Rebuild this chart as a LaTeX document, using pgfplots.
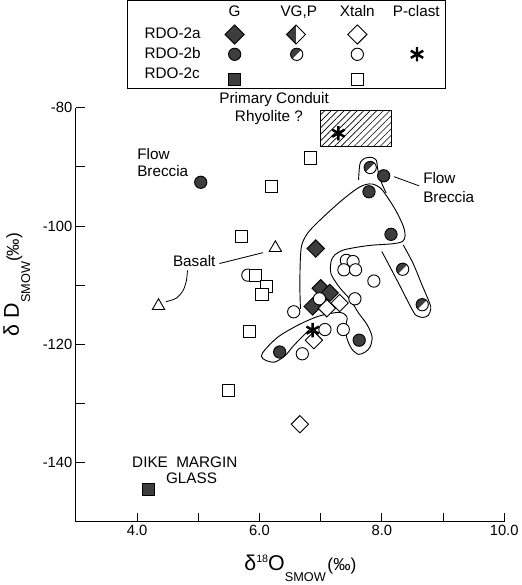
\documentclass[border=0pt]{standalone}
\usepackage{fontspec}
\setmainfont{Liberation Sans}
\usepackage{pgfplots}
\pgfplotsset{compat=1.18}
\usetikzlibrary{patterns.meta}
\definecolor{dk}{gray}{0.24}
\newcommand{\lbl}{\fontsize{15}{17}\selectfont}

\pgfdeclareplotmark{dia}{%
  \pgfpathmoveto{\pgfqpoint{0pt}{1.3\pgfplotmarksize}}%
  \pgfpathlineto{\pgfqpoint{1.3\pgfplotmarksize}{0pt}}%
  \pgfpathlineto{\pgfqpoint{0pt}{-1.3\pgfplotmarksize}}%
  \pgfpathlineto{\pgfqpoint{-1.3\pgfplotmarksize}{0pt}}%
  \pgfpathclose\pgfusepathqfillstroke}
\pgfdeclareplotmark{halfdia}{%
  \begin{pgfscope}\pgfsetfillcolor{white}%
  \pgfpathmoveto{\pgfqpoint{0pt}{1.3\pgfplotmarksize}}%
  \pgfpathlineto{\pgfqpoint{1.3\pgfplotmarksize}{0pt}}%
  \pgfpathlineto{\pgfqpoint{0pt}{-1.3\pgfplotmarksize}}%
  \pgfpathclose\pgfusepathqfill\end{pgfscope}%
  \pgfpathmoveto{\pgfqpoint{0pt}{1.3\pgfplotmarksize}}%
  \pgfpathlineto{\pgfqpoint{-1.3\pgfplotmarksize}{0pt}}%
  \pgfpathlineto{\pgfqpoint{0pt}{-1.3\pgfplotmarksize}}%
  \pgfpathclose\pgfusepathqfill
  \pgfpathmoveto{\pgfqpoint{0pt}{1.3\pgfplotmarksize}}%
  \pgfpathlineto{\pgfqpoint{1.3\pgfplotmarksize}{0pt}}%
  \pgfpathlineto{\pgfqpoint{0pt}{-1.3\pgfplotmarksize}}%
  \pgfpathlineto{\pgfqpoint{-1.3\pgfplotmarksize}{0pt}}%
  \pgfpathclose\pgfusepathqstroke}
\pgfdeclareplotmark{halfcirc}{%
  \begin{pgfscope}\pgfsetfillcolor{white}%
  \pgfpathcircle{\pgfpointorigin}{\pgfplotmarksize}\pgfusepathqfill\end{pgfscope}%
  \pgfpathmoveto{\pgfpointpolar{45}{\pgfplotmarksize}}%
  \pgfpatharc{45}{225}{\pgfplotmarksize}%
  \pgfpathclose\pgfusepathqfill
  \pgfpathcircle{\pgfpointorigin}{\pgfplotmarksize}\pgfusepathqstroke}

\begin{document}
\begin{tikzpicture}
\begin{axis}[
  name=ax,
  scale only axis, width=419bp, height=405bp,
  xmin=3, xmax=10, ymin=-150, ymax=-80,
  axis lines*=left,
  axis line style={line width=1pt},
  xtick={4,6,8,10}, xticklabels={4.0,6.0,8.0,10.0},
  minor xtick={5,7,9},
  ytick={-140,-120,-100,-80}, yticklabels={-140,-120,-100,-80},
  minor ytick={-130,-110,-90},
  tick align=inside,
  major tick length=9bp, minor tick length=9bp,
  tick style={black, line width=1pt},
  tick label style={font=\fontsize{14.5}{15}\selectfont},
  /pgf/number format/assume math mode=true,
  clip=false,
  xlabel={{\fontsize{21}{21}\selectfont δ\raisebox{8bp}{\fontsize{10.5}{10.5}\selectfont 18}O}\raisebox{-11bp}{\fontsize{12.5}{12.5}\selectfont SMOW}\,{\fontsize{17}{17}\selectfont (‰)}},
  ylabel={{\fontsize{21}{21}\selectfont δ D}\raisebox{-11bp}{\fontsize{12.5}{12.5}\selectfont SMOW}{\fontsize{17}{17}\selectfont (‰)}},
  xlabel style={at={(axis description cs:0.524,-0.112)}, anchor=center},
  ylabel style={at={(axis description cs:-0.138,0.573)}, anchor=center},
]
% hatched box (primary conduit rhyolite)
\draw[line width=0.9pt, pattern={Lines[angle=45,distance=4.5bp,line width=0.6bp]}]
  (axis cs:7.0,-86.5) rectangle (axis cs:8.16,-80.4);

% outlines
\addplot[smooth, no markers, line width=0.9pt] coordinates {
 (7.62,-92.2) (7.63,-90.5) (7.65,-89.2) (7.73,-88.5) (7.84,-88.4) (7.91,-88.9)
 (7.93,-90.2) (7.95,-91.2) (8.00,-92.8) (8.07,-94.4)};
\addplot[smooth, no markers, line width=0.9pt] coordinates {
 (6.67,-114.0) (6.66,-110.0) (6.67,-105.2) (6.70,-102.9) (6.81,-100.9) (7.06,-98.3)
 (7.34,-95.7) (7.59,-93.7) (7.73,-93.0) (7.85,-92.9) (7.98,-93.6) (8.09,-95.1)
 (8.23,-97.4) (8.35,-100.0) (8.38,-101.6) (8.34,-102.6) (8.17,-103.0) (7.78,-103.3)
 (7.39,-104.0) (7.23,-104.9) (7.17,-106.0) (7.17,-108.1) (7.31,-110.4) (7.48,-112.4)
 (7.62,-114.7) (7.76,-116.7) (7.84,-118.7) (7.81,-120.4) (7.73,-121.3) (7.62,-121.7)
 (7.51,-120.8) (7.43,-119.0) (7.41,-117.0) (7.43,-115.4) (7.31,-114.6) (6.98,-115.2)
 (6.64,-116.7) (6.31,-118.7) (6.10,-120.8) (6.03,-122.0) (6.10,-122.7) (6.25,-123.0)
 (6.42,-121.9) (6.56,-120.2) (6.75,-118.2) (6.81,-117.6)};
\addplot[smooth, no markers, line width=0.9pt] coordinates {
 (8.00,-104.3) (8.26,-109.4) (8.51,-114.4) (8.58,-115.2) (8.67,-115.45) (8.76,-115.1)
 (8.80,-114.0) (8.78,-113.0) (8.65,-109.8) (8.51,-106.3) (8.35,-103.2)};

% leader lines
\addplot[no markers, line width=0.8pt] coordinates {(8.20,-91.65) (8.61,-93.2)};
\addplot[no markers, line width=0.8pt] coordinates {(5.346,-106.34) (6.058,-104.5)};
\addplot[smooth, no markers, line width=0.8pt] coordinates {
 (4.823,-107.5) (4.806,-109.2) (4.751,-110.9) (4.64,-112.2) (4.47,-112.8)};

% RDO-2a G (filled diamonds)
\addplot[only marks, mark=dia, mark size=6.5bp, mark options={draw=black, fill=dk, line width=0.9pt}]
 coordinates {(6.92,-103.8) (7.00,-110.5) (7.15,-111.3) (6.87,-113.6)};
% RDO-2b G (filled circles)
\addplot[only marks, mark=*, mark size=6bp, mark options={draw=black, fill=dk, line width=0.9pt}]
 coordinates {(5.04,-92.6) (8.03,-91.5) (7.79,-94.2) (8.15,-101.4) (7.63,-119.3) (6.33,-121.3)};
% RDO-2b VG,P (half-filled circles)
\addplot[only marks, mark=halfcirc, mark size=6bp, mark options={draw=black, fill=dk, line width=0.9pt}]
 coordinates {(7.81,-90.1) (8.34,-107.3) (8.66,-113.3)};
% RDO-2b Xtaln (open circles)
\addplot[only marks, mark=*, mark size=6bp, mark options={draw=black, fill=white, line width=0.9pt}]
 coordinates {(5.81,-108.3) (7.42,-105.8) (7.53,-106.0) (7.38,-107.4) (7.57,-107.4)
 (7.87,-109.3) (6.98,-112.3) (7.56,-112.3) (6.56,-114.5) (7.07,-117.5) (7.37,-117.5) (6.70,-121.6)};
% RDO-2a Xtaln (open diamonds)
\addplot[only marks, mark=dia, mark size=6.5bp, mark options={draw=black, fill=white, line width=0.9pt}]
 coordinates {(7.10,-113.9) (7.31,-113.0) (6.89,-119.3) (6.66,-133.5)};
% RDO-2c G (filled square)
\addplot[only marks, mark=square*, mark size=6bp, mark options={draw=black, fill=dk, line width=0.9pt}]
 coordinates {(4.19,-144.6)};
% RDO-2c Xtaln (open squares)
\addplot[only marks, mark=square*, mark size=6bp, mark options={draw=black, fill=white, line width=0.9pt}]
 coordinates {(6.83,-88.5) (6.20,-93.3) (5.71,-101.7) (5.94,-108.3) (6.11,-110.2) (6.04,-111.6) (5.84,-117.8) (5.49,-127.8)};
% Basalt (open triangles)
\addplot[only marks, mark=triangle*, mark size=7bp, mark options={draw=black, fill=white, line width=0.9pt}]
 coordinates {(6.26,-103.7) (4.35,-113.5)};
% P-clast (asterisks)
\addplot[only marks, mark=asterisk, mark size=7bp, mark options={draw=black, line width=2.4pt}]
 coordinates {(6.87,-117.6) (7.29,-84.3)};

% annotations
\node[anchor=base west, inner sep=0pt, font=\lbl] at (axis cs:4.0,-88.8) {Flow};
\node[anchor=base west, inner sep=0pt, font=\lbl] at (axis cs:4.0,-91.65) {Breccia};
\node[anchor=base west, inner sep=0pt, font=\lbl] at (axis cs:8.674,-92.8) {Flow};
\node[anchor=base west, inner sep=0pt, font=\lbl] at (axis cs:8.674,-95.97) {Breccia};
\node[anchor=base west, inner sep=0pt, font=\lbl] at (axis cs:4.584,-106.8) {Basalt};
\node[anchor=base west, inner sep=0pt, font=\lbl] at (axis cs:3.917,-140.9) {DIKE\hspace{0.55em}MARGIN};
\node[anchor=base west, inner sep=0pt, font=\lbl] at (axis cs:4.47,-143.5) {GLASS};
\node[anchor=base, inner sep=0pt, font=\lbl] at (axis cs:6.24,-79.2) {Primary Conduit};
\node[anchor=base, inner sep=0pt, font=\lbl] at (axis cs:6.155,-82.3) {Rhyolite ?};
\end{axis}

% legend table
\begin{axis}[
  at={(50.3bp,424bp)}, anchor=south west,
  scale only axis, width=311.7bp, height=86bp,
  xmin=128.3, xmax=440, ymin=-95, ymax=-9,
  xtick=\empty, ytick=\empty,
  axis line style={line width=0.9pt},
  clip=false,
]
\node[anchor=base, inner sep=0pt, font=\lbl] at (axis cs:233.3,-25) {G};
\node[anchor=base, inner sep=0pt, font=\lbl] at (axis cs:296,-25) {VG,P};
\node[anchor=base, inner sep=0pt, font=\lbl] at (axis cs:353.3,-25) {Xtaln};
\node[anchor=base, inner sep=0pt, font=\lbl] at (axis cs:411,-25) {P-clast};
\node[anchor=base west, inner sep=0pt, font=\lbl] at (axis cs:145,-46.7) {RDO-2a};
\node[anchor=base west, inner sep=0pt, font=\lbl] at (axis cs:145,-65.7) {RDO-2b};
\node[anchor=base west, inner sep=0pt, font=\lbl] at (axis cs:145,-85) {RDO-2c};
\addplot[only marks, mark=dia, mark size=7.2bp, mark options={draw=black, fill=dk, line width=0.9pt}]
 coordinates {(233.3,-42.3)};
\addplot[only marks, mark=halfdia, mark size=7.2bp, mark options={draw=black, fill=dk, line width=0.9pt}]
 coordinates {(293.3,-42.3)};
\addplot[only marks, mark=dia, mark size=7.2bp, mark options={draw=black, fill=white, line width=0.9pt}]
 coordinates {(353.3,-42.3)};
\addplot[only marks, mark=*, mark size=6bp, mark options={draw=black, fill=dk, line width=0.9pt}]
 coordinates {(233.3,-61.7)};
\addplot[only marks, mark=halfcirc, mark size=6bp, mark options={draw=black, fill=dk, line width=0.9pt}]
 coordinates {(294,-61.7)};
\addplot[only marks, mark=*, mark size=6bp, mark options={draw=black, fill=white, line width=0.9pt}]
 coordinates {(353.3,-61.7)};
\addplot[only marks, mark=asterisk, mark size=7bp, mark options={draw=black, line width=2.4pt}]
 coordinates {(411.7,-61.7)};
\addplot[only marks, mark=square*, mark size=6bp, mark options={draw=black, fill=dk, line width=0.9pt}]
 coordinates {(233.3,-86)};
\addplot[only marks, mark=square*, mark size=6bp, mark options={draw=black, fill=white, line width=0.9pt}]
 coordinates {(353.3,-86)};
\end{axis}
\end{tikzpicture}
\end{document}
